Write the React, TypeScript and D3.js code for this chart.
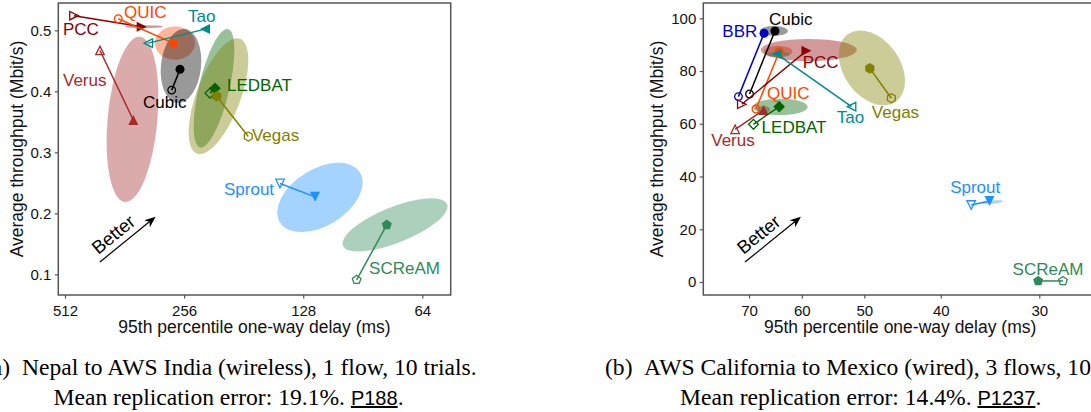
import { useEffect, useRef } from 'react';
import * as d3 from 'd3';

type Pt = [number, number];

// ---- (a) Nepal to AWS India (wireless), 1 flow ----
const schemesA = ['PCC', 'QUIC', 'Tao', 'Verus', 'Cubic', 'LEDBAT', 'Vegas', 'Sprout', 'SCReAM'];
// [95th percentile one-way delay (ms), average throughput (Mbit/s)]
const realA: Pt[] = [
  [327.7, 0.506], [272.6, 0.479], [226.7, 0.502], [344.1, 0.353], [262.2, 0.436],
  [213.9, 0.405], [211.8, 0.392], [119.5, 0.227], [78.7, 0.181],
];
const emuA: Pt[] = [
  [485.9, 0.524], [375.5, 0.519], [315.3, 0.479], [417.7, 0.467], [275.2, 0.402],
  [220.2, 0.397], [176.2, 0.326], [146.5, 0.249], [93.8, 0.091],
];
// spread ellipses: centre, end of major axis, minor/major ratio
const ellCenterA: (Pt | null)[] = [
  [323.3, 0.506], [270.0, 0.479], null, [345.7, 0.354], [260.7, 0.4415],
  [215.1, 0.405], [209.6, 0.392], [116.1, 0.226], [75.0, 0.181],
];
const ellEndA: (Pt | null)[] = [
  [289.5, 0.506], [240.3, 0.479], null, [330.9, 0.4895], [254.7, 0.502],
  [198.3, 0.502], [184.9, 0.486], [92.0, 0.267], [55.4, 0.215],
];
const ellRatioA = [0.08, 0.83, 0, 0.3, 0.54, 0.25, 0.36, 0.6, 0.32];
const xTicksA = [512, 256, 128, 64];
const yTicksA = [0.1, 0.2, 0.3, 0.4, 0.5];

// ---- (b) AWS California to Mexico (wired), 3 flows ----
const schemesB = ['Cubic', 'BBR', 'QUIC', 'PCC', 'Tao', 'Verus', 'LEDBAT', 'Vegas', 'Sprout', 'SCReAM'];
const realB: Pt[] = [
  [64.9, 95.2], [67.0, 94.3], [64.1, 87.3], [59.2, 87.7], [64.6, 86.5],
  [67.1, 65.2], [64.1, 66.5], [49.2, 81.0], [34.7, 30.7], [30.1, 0.4],
];
const emuB: Pt[] = [
  [69.9, 71.3], [72.2, 70.3], [68.6, 65.6], [71.5, 67.4], [51.9, 66.5],
  [72.9, 57.9], [69.1, 59.8], [46.2, 69.7], [36.6, 29.2], [28.0, 0.4],
];
const ellCenterB: (Pt | null)[] = [
  [65.1, 95.2], null, [64.3, 87.4], [58.8, 88.0], [64.2, 86.3],
  [67.1, 65.4], [63.9, 66.4], [48.9, 81.2], [34.4, 30.3], null,
];
const ellEndB: (Pt | null)[] = [
  [62.5, 95.2], null, [61.7, 87.4], [51.1, 88.0], [62.1, 86.3],
  [65.8, 65.4], [59.0, 66.4], [45.6, 68.4], [33.35, 30.7], null,
];
const ellRatioB = [0.36, 0, 0.4, 0.23, 0.23, 0.54, 0.3, 0.68, 0.15, 0];
const xTicksB = [70, 60, 50, 40, 30];
const yTicksB = [0, 20, 40, 60, 80, 100];

const colors: Record<string, string> = {
  PCC: '#8b0000', QUIC: '#ff4500', Tao: '#008b8b', Verus: '#a52a2a', Cubic: '#000000',
  LEDBAT: '#006400', Vegas: '#808000', Sprout: '#1e90ff', SCReAM: '#2e8b57', BBR: '#0000cd',
};
const markers: Record<string, string> = {
  PCC: '>', QUIC: 'o', Tao: '<', Verus: '^', Cubic: 'o',
  LEDBAT: 'D', Vegas: 'h', Sprout: 'v', SCReAM: 'p', BBR: 'o',
};

// label offsets (px) from the filled marker
const labelPosA: Record<string, Pt> = {
  PCC: [-78.7, 8.3], QUIC: [-49.3, -25], Tao: [-17, -7.6], Verus: [-70.3, -34], Cubic: [-37, 39],
  LEDBAT: [12, 2.4], Vegas: [35.3, 44.7], Sprout: [-91, -1.7], SCReAM: [-17.7, 49],
};
const labelPosB: Record<string, Pt> = {
  Cubic: [-6, -6], BBR: [-41.7, 3.4], QUIC: [-12.3, 47.3], PCC: [-3.7, 17.6], Tao: [60.3, 69.3],
  Verus: [-52.3, 35.7], LEDBAT: [-17.6, 26.6], Vegas: [2, 50], Sprout: [-39.3, -7.7], SCReAM: [-25.6, -6],
};

const SANS = '"Liberation Sans", Arial, Helvetica, sans-serif';
const SERIF = '"Liberation Serif", "Times New Roman", serif';
const SPINE = '#555';

function markerPath(shape: string, r: number): string {
  const poly = (pts: Pt[]) => 'M' + pts.map(p => `${p[0]},${p[1]}`).join('L') + 'Z';
  const reg = (n: number) =>
    d3.range(n).map(k => {
      const t = -Math.PI / 2 + (k * 2 * Math.PI) / n;
      return [r * Math.cos(t), r * Math.sin(t)] as Pt;
    });
  switch (shape) {
    case '^': return poly([[0, -r], [r, r], [-r, r]]);
    case 'v': return poly([[0, r], [r, -r], [-r, -r]]);
    case '>': return poly([[r, 0], [-r, -r], [-r, r]]);
    case '<': return poly([[-r, 0], [r, -r], [r, r]]);
    case 'D': return poly([[0, -r], [r, 0], [0, r], [-r, 0]]);
    case 'h': return poly(reg(6));
    case 'p': return poly(reg(5));
    default: return d3.symbol(d3.symbolCircle, Math.PI * r * r)() as string;
  }
}

const markerSize: Record<string, number> = { o: 4.5, '^': 5, v: 5, '>': 5, '<': 5, D: 5.8, h: 5.3, p: 5.3 };

interface Panel {
  left: number; top: number; width: number; height: number;
  xDomain: [number, number]; yDomain: [number, number];
  xTicks: number[]; yTicks: number[]; yFormat: (d: number) => string;
  schemes: string[]; real: Pt[]; emu: Pt[];
  ellCenter: (Pt | null)[]; ellEnd: (Pt | null)[]; ellRatio: number[];
  labelPos: Record<string, Pt>; yLabelX: number;
}

function drawPanel(svg: d3.Selection<SVGSVGElement, unknown, null, undefined>, p: Panel) {
  const x = d3.scaleLog().domain(p.xDomain).range([p.left, p.left + p.width]);
  const y = d3.scaleLinear().domain(p.yDomain).range([p.top + p.height, p.top]);
  const g = svg.append('g');

  // ellipses
  p.schemes.forEach((s, i) => {
    const c = p.ellCenter[i];
    const e = p.ellEnd[i];
    if (!c || !e) return;
    const cx = x(c[0]), cy = y(c[1]);
    const ex = x(e[0]), ey = y(e[1]);
    const a = Math.hypot(ex - cx, ey - cy);
    const ang = (Math.atan2(ey - cy, ex - cx) * 180) / Math.PI;
    g.append('ellipse')
      .attr('transform', `translate(${cx},${cy}) rotate(${ang})`)
      .attr('rx', a)
      .attr('ry', a * p.ellRatio[i])
      .attr('fill', colors[s])
      .attr('fill-opacity', 0.4);
  });

  // connecting lines + markers
  p.schemes.forEach((s, i) => {
    const col = colors[s];
    const r = p.real[i];
    const m = p.emu[i];
    g.append('line')
      .attr('x1', x(m[0])).attr('y1', y(m[1]))
      .attr('x2', x(r[0])).attr('y2', y(r[1]))
      .attr('stroke', col).attr('stroke-width', 1.5);
    const sh = markers[s];
    g.append('path')
      .attr('d', markerPath(sh, markerSize[sh] * 0.85))
      .attr('transform', `translate(${x(m[0])},${y(m[1])})`)
      .attr('fill', 'none').attr('stroke', col).attr('stroke-width', 1.3);
    g.append('path')
      .attr('d', markerPath(sh, markerSize[sh]))
      .attr('transform', `translate(${x(r[0])},${y(r[1])})`)
      .attr('fill', col);
  });

  // scheme labels
  p.schemes.forEach((s, i) => {
    const r = p.real[i];
    const off = p.labelPos[s];
    g.append('text')
      .attr('x', x(r[0]) + off[0])
      .attr('y', y(r[1]) + off[1])
      .attr('fill', colors[s])
      .attr('font-family', SANS)
      .attr('font-size', '17px')
      .text(s);
  });

  // "Better" arrow in axes fraction
  const fx = (f: number) => p.left + f * p.width;
  const fy = (f: number) => p.top + p.height - f * p.height;
  const x0 = fx(0.106), y0 = fy(0.113), x1 = fx(0.248), y1 = fy(0.268);
  const len = Math.hypot(x1 - x0, y1 - y0);
  const ux = (x1 - x0) / len, uy = (y1 - y0) / len;
  const nx = uy, ny = -ux;
  g.append('line')
    .attr('x1', x0).attr('y1', y0)
    .attr('x2', x1 - ux * 8).attr('y2', y1 - uy * 8)
    .attr('stroke', '#000').attr('stroke-width', 1.2);
  g.append('path')
    .attr('d', `M${x1},${y1}L${x1 - ux * 11 + nx * 4.5},${y1 - uy * 11 + ny * 4.5}L${x1 - ux * 8},${y1 - uy * 8}L${x1 - ux * 11 - nx * 4.5},${y1 - uy * 11 - ny * 4.5}Z`)
    .attr('fill', '#000');
  const mx = (x0 + x1) / 2, my = (y0 + y1) / 2;
  const angle = (Math.atan2(uy, ux) * 180) / Math.PI;
  // baseline sits a little above the arrow, shifted back along it
  const bx = mx - ux * 8 + uy * 6.5, by = my - uy * 8 - ux * 6.5;
  g.append('text')
    .attr('transform', `translate(${bx},${by}) rotate(${angle})`)
    .attr('text-anchor', 'middle')
    .attr('font-family', SANS)
    .attr('font-size', '18.5px')
    .attr('fill', '#000')
    .text('Better');

  // axes
  const xAxis = g.append('g')
    .attr('transform', `translate(0,${p.top + p.height})`)
    .call(d3.axisBottom(x).tickValues(p.xTicks).tickFormat(d => String(d)).tickSize(3.5).tickSizeOuter(0).tickPadding(6.5));
  const yAxis = g.append('g')
    .attr('transform', `translate(${p.left},0)`)
    .call(d3.axisLeft(y).tickValues(p.yTicks).tickFormat(d => p.yFormat(d as number)).tickSize(3.5).tickSizeOuter(0).tickPadding(3.5));
  [xAxis, yAxis].forEach(ax => {
    ax.select('.domain').remove();
    ax.selectAll('line').attr('stroke', SPINE).attr('stroke-width', 1.2);
    ax.selectAll('text').attr('font-family', SANS).attr('font-size', '15px').attr('fill', '#111');
  });

  g.append('rect')
    .attr('x', p.left).attr('y', p.top)
    .attr('width', p.width).attr('height', p.height)
    .attr('fill', 'none').attr('stroke', SPINE).attr('stroke-width', 1.5);

  g.append('text')
    .attr('x', p.left + p.width / 2)
    .attr('y', p.top + p.height + 37.5)
    .attr('text-anchor', 'middle')
    .attr('font-family', SANS)
    .attr('font-size', '17.5px')
    .attr('fill', '#111')
    .text('95th percentile one-way delay (ms)');

  g.append('text')
    .attr('transform', `translate(${p.yLabelX},${p.top + p.height / 2}) rotate(-90)`)
    .attr('text-anchor', 'middle')
    .attr('font-family', SANS)
    .attr('font-size', '17.5px')
    .attr('fill', '#111')
    .text('Average throughput (Mbit/s)');
}

function caption(
  svg: d3.Selection<SVGSVGElement, unknown, null, undefined>,
  tag: string, tagX: number, line1: string, line1X: number,
  err: string, link: string, line2X: number,
) {
  svg.append('text')
    .attr('x', tagX).attr('y', 375)
    .attr('font-family', SERIF).attr('font-size', '23.6px').attr('fill', '#000')
    .text(tag);
  svg.append('text')
    .attr('x', line1X).attr('y', 375)
    .attr('font-family', SERIF).attr('font-size', '23.6px').attr('fill', '#000')
    .text(line1);
  const t = svg.append('text')
    .attr('x', line2X).attr('y', 405)
    .attr('text-anchor', 'middle')
    .attr('font-family', SERIF).attr('font-size', '23.6px').attr('fill', '#000');
  t.append('tspan').text(`Mean replication error: ${err}. `);
  t.append('tspan').attr('font-family', SANS).attr('font-size', '20px')
    .attr('text-decoration', 'underline').text(link);
  t.append('tspan').text('.');
}

export default function App() {
  const svgRef = useRef<SVGSVGElement>(null);

  useEffect(() => {
    if (!svgRef.current) return;
    const svg = d3.select(svgRef.current);
    svg.selectAll('*').remove();

    svg.append('rect').attr('width', 1091).attr('height', 412).attr('fill', '#fff');

    drawPanel(svg, {
      left: 58.3, top: 3, width: 392.4, height: 292,
      xDomain: [532.4, 54.25], yDomain: [0.0661, 0.5448],
      xTicks: xTicksA, yTicks: yTicksA, yFormat: d => d.toFixed(1),
      schemes: schemesA, real: realA, emu: emuA,
      ellCenter: ellCenterA, ellEnd: ellEndA, ellRatio: ellRatioA,
      labelPos: labelPosA, yLabelX: 23,
    });
    drawPanel(svg, {
      left: 703.3, top: 3, width: 393.7, height: 292,
      xDomain: [80.0, 25.35], yDomain: [-4.93, 105.8],
      xTicks: xTicksB, yTicks: yTicksB, yFormat: d => String(d),
      schemes: schemesB, real: realB, emu: emuB,
      ellCenter: ellCenterB, ellEnd: ellEndB, ellRatio: ellRatioB,
      labelPos: labelPosB, yLabelX: 663,
    });

    caption(svg, '(a)', -16, 'Nepal to AWS India (wireless), 1 flow, 10 trials.', 22, '19.1%', 'P188', 228.5);
    caption(svg, '(b)', 605, 'AWS California to Mexico (wired), 3 flows, 10 trials.', 644, '14.4%', 'P1237', 860.7);
  }, []);

  return (
    <svg
      ref={svgRef}
      width={1091}
      height={412}
      style={{ position: 'absolute', left: 0, top: 0, display: 'block' }}
    />
  );
}
